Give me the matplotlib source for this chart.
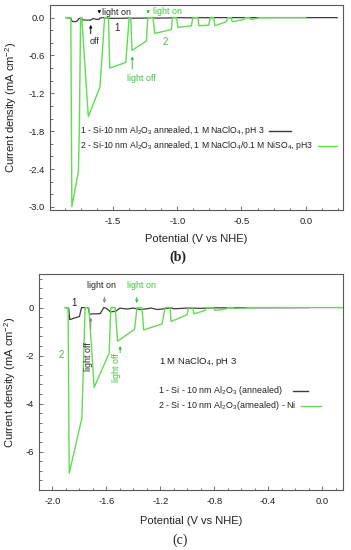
import matplotlib
matplotlib.use('Agg')
import matplotlib.pyplot as plt
from matplotlib.ticker import MultipleLocator, AutoMinorLocator
from matplotlib.lines import Line2D

plt.rcParams['font.family'] = ['Liberation Sans', 'DejaVu Sans']
plt.rcParams['mathtext.fontset'] = 'custom'
plt.rcParams['mathtext.rm'] = 'Liberation Sans'
plt.rcParams['mathtext.it'] = 'Liberation Sans:italic'
plt.rcParams['axes.unicode_minus'] = False

GREEN = '#62dc52'
GREEN_TXT = '#3cc43a'
DARK = '#3c3c3c'
SPINE = '#5a5a5a'

# ---- panel (b): chopped LSV, 1 M NaClO4 vs NaClO4/NiSO4 ----
b_green_v = [-1.865, -1.828, -1.820, -1.769, -1.762, -1.752, -1.743, -1.692, -1.601, -1.565,
             -1.535, -1.525, -1.400, -1.374, -1.362, -1.352, -1.240, -1.229, -1.188, -1.175,
             -1.045, -1.037, -1.006, -0.994, -0.890, -0.878, -0.839, -0.831, -0.755, -0.743,
             -0.717, -0.707, -0.619, -0.606, -0.580, -0.572, -0.480, -0.470, -0.438, -0.425,
             -0.365, -0.360, 0.0]
b_green_j = [0.0, 0.0, -3.0, -2.44, -1.8, 0.0, 0.0, -1.57, -1.10, 0.0,
             0.0, -0.80, -0.71, 0.0, 0.0, -0.52, -0.37, 0.0, 0.0, -0.25,
             -0.19, 0.0, 0.0, -0.155, -0.13, 0.0, 0.0, -0.13, -0.12, 0.0,
             0.0, -0.13, -0.065, 0.0, 0.0, -0.065, -0.03, 0.0, 0.0, -0.03,
             -0.005, 0.0, 0.0]
b_black_v = [-1.865, -1.828, -1.818, -1.790, -1.775, -1.765, -1.745, -1.735, -1.700, -1.675,
             -1.655, -1.630, -1.610, -1.600, -1.570, -1.530, -1.400, -1.370, -1.360, -1.230,
             -1.190, -1.170, -1.040, -1.000, -0.880, -0.840, -0.740, -0.700, 0.245]
b_black_j = [0.0, -0.01, -0.06, -0.065, -0.045, -0.015, -0.01, -0.035, -0.04, -0.04,
             -0.015, -0.025, -0.03, -0.005, 0.0, -0.012, -0.01, 0.0, -0.01, -0.006,
             0.0, -0.008, -0.004, 0.0, -0.004, 0.0, -0.003, 0.0, 0.0]

# ---- panel (c): 1 M NaClO4, pH 3, with / without Ni ----
c_green_v = [-1.906, -1.884, -1.876, -1.782, -1.758, -1.730, -1.691, -1.580, -1.567,
             -1.535, -1.517, -1.391, -1.373, -1.336, -1.324, -1.187, -1.165,
             -1.128, -1.121, -1.002, -0.991, -0.960, -0.950, -0.869, -0.854,
             -0.807, -0.795, -0.708, -0.699, -0.659, -0.650, -0.565, -0.558, 0.153]
c_green_j = [0.0, 0.0, -6.9, -4.61, 0.0, 0.0, -3.33, -1.9, 0.0,
             0.0, -1.4, -0.9, 0.0, 0.0, -0.93, -0.68, 0.0,
             0.0, -0.58, -0.30, 0.0, 0.0, -0.26, -0.12, 0.0,
             0.0, -0.12, -0.05, 0.0, 0.0, -0.04, -0.02, 0.0, 0.0]
c_black_v = [-1.905, -1.880, -1.872, -1.800, -1.785, -1.735, -1.725, -1.645, -1.620, -1.600,
             -1.570, -1.530, -1.500, -1.450, -1.400, -1.350, -1.300, -1.270, -1.220, -1.170,
             -1.120, -1.100, -1.000, -0.900, -0.800, -0.100]
c_black_j = [0.0, -0.02, -0.5, -0.37, 0.0, 0.0, -0.27, -0.25, 0.0, -0.03,
             -0.18, -0.15, -0.02, -0.06, -0.02, -0.08, -0.05, -0.02, -0.08, -0.05,
             -0.01, -0.05, -0.02, -0.03, -0.01, 0.0]

TICK_FS = 6.8
LAB_FS = 8.0
ANN_FS = 6.4

fig = plt.figure(figsize=(3.51, 5.5), dpi=100)
ax1 = fig.add_axes([50 / 351, 1 - 210 / 550, 293 / 351, 205 / 550])
ax2 = fig.add_axes([39 / 351, 1 - 490 / 550, 304 / 351, 216 / 550])


def style_axes(ax):
    for s in ax.spines.values():
        s.set_color(SPINE)
        s.set_linewidth(0.8)
    ax.tick_params(which='both', direction='in', top=False, right=False,
                   colors=SPINE, labelcolor='#222222', labelsize=TICK_FS, width=0.6)
    ax.tick_params(which='major', length=3)
    ax.tick_params(which='minor', length=1.8)
    ax.tick_params(axis='x', pad=5)
    ax.tick_params(axis='y', pad=3.5)


def fmt(decimals):
    return plt.FuncFormatter(lambda v, p: f'{round(v, decimals) + 0.0:.{decimals}f}')


def add_legend_row(ax, x, y, label, color, gap=5, length=20, fs=ANN_FS):
    t = ax.text(x, y, label, fontsize=fs, color='#222222', ha='left', va='center')
    fig.canvas.draw()
    bb = t.get_window_extent(fig.canvas.get_renderer())
    inv = fig.transFigure.inverted()
    (x0, yc) = inv.transform((bb.x1 + gap, (bb.y0 + bb.y1) / 2))
    (x1, _) = inv.transform((bb.x1 + gap + length, 0))
    fig.add_artist(Line2D([x0, x1], [yc, yc], color=color, lw=1.0, transform=fig.transFigure))


# panel (b)
ax1.plot(b_black_v, b_black_j, color=DARK, lw=0.9)
ax1.plot(b_green_v, b_green_j, color=GREEN, lw=1.0)
ax1.set_xlim(-1.99, 0.29)
ax1.set_ylim(-3.05, 0.2)
ax1.xaxis.set_major_locator(MultipleLocator(0.5))
ax1.xaxis.set_minor_locator(AutoMinorLocator(4))
ax1.yaxis.set_major_locator(MultipleLocator(0.6))
ax1.yaxis.set_minor_locator(AutoMinorLocator(3))
ax1.xaxis.set_major_formatter(fmt(1))
ax1.yaxis.set_major_formatter(fmt(1))
style_axes(ax1)
ax1.set_xlabel('Potential (V vs NHE)', fontsize=LAB_FS, color='#222222')
ax1.set_ylabel('Current density (mA cm$^{-2}$)', fontsize=LAB_FS, color='#222222')
ax1.xaxis.set_label_coords(0.5, -0.118)
ax1.yaxis.set_label_coords(-0.105, 0.5)

ax1.annotate('', xy=(-1.606, 0.016), xytext=(-1.606, 0.15),
             arrowprops=dict(arrowstyle='-|>', color='#111111', lw=0.7, mutation_scale=4))
ax1.text(-1.588, 0.085, 'light on', fontsize=ANN_FS, color='#222222', ha='left', va='center')
ax1.annotate('', xy=(-1.673, -0.07), xytext=(-1.673, -0.30),
             arrowprops=dict(arrowstyle='-|>', color='#111111', lw=0.7, mutation_scale=4))
ax1.text(-1.645, -0.38, 'off', fontsize=ANN_FS, color='#222222', ha='center', va='center')
ax1.text(-1.467, -0.168, '1', fontsize=7, color='#222222', ha='center', va='center')
ax1.annotate('', xy=(-1.226, 0.016), xytext=(-1.226, 0.15),
             arrowprops=dict(arrowstyle='-|>', color=GREEN_TXT, lw=0.7, mutation_scale=4))
ax1.text(-1.19, 0.09, 'light on', fontsize=ANN_FS, color=GREEN_TXT, ha='left', va='center')
ax1.text(-1.097, -0.38, '2', fontsize=7, color=GREEN_TXT, ha='center', va='center')
ax1.annotate('', xy=(-1.35, -0.57), xytext=(-1.35, -0.86),
             arrowprops=dict(arrowstyle='-|>', color=GREEN_TXT, lw=0.7, mutation_scale=4))
ax1.text(-1.275, -0.97, 'light off', fontsize=ANN_FS, color=GREEN_TXT, ha='center', va='center')

add_legend_row(ax1, -1.756, -1.79,
               '1 - Si-10 nm Al$_2$O$_3$ annealed, 1 M NaClO$_4$, pH 3', DARK,
               gap=4, length=22, fs=6.2)
add_legend_row(ax1, -1.756, -2.03,
               '2 - Si-10 nm Al$_2$O$_3$ annealed, 1 M NaClO$_4$/0.1 M NiSO$_4$, pH3', GREEN,
               gap=5, length=19, fs=6.2)

# panel (c)
ax2.plot(c_black_v, c_black_j, color=DARK, lw=0.9)
ax2.plot(c_green_v, c_green_j, color=GREEN, lw=1.0)
ax2.set_xlim(-2.1, 0.155)
ax2.set_ylim(-7.6, 1.4)
ax2.xaxis.set_major_locator(MultipleLocator(0.4))
ax2.xaxis.set_minor_locator(AutoMinorLocator(4))
ax2.yaxis.set_major_locator(MultipleLocator(2))
ax2.yaxis.set_minor_locator(AutoMinorLocator(5))
ax2.xaxis.set_major_formatter(fmt(1))
ax2.yaxis.set_major_formatter(fmt(0))
style_axes(ax2)
ax2.set_xlabel('Potential (V vs NHE)', fontsize=LAB_FS, color='#222222')
ax2.set_ylabel('Current density (mA cm$^{-2}$)', fontsize=LAB_FS, color='#222222')
ax2.xaxis.set_label_coords(0.5, -0.122)
ax2.yaxis.set_label_coords(-0.068, 0.5)

ax2.text(-1.839, 0.2, '1', fontsize=7, color='#222222', ha='center', va='center')
ax2.annotate('', xy=(-1.615, 0.07), xytext=(-1.615, 0.55),
             arrowprops=dict(arrowstyle='-|>', color='#888888', lw=0.7, mutation_scale=4))
ax2.text(-1.639, 0.9, 'light on', fontsize=ANN_FS, color='#222222', ha='center', va='center')
ax2.annotate('', xy=(-1.375, 0.07), xytext=(-1.375, 0.55),
             arrowprops=dict(arrowstyle='-|>', color=GREEN_TXT, lw=0.7, mutation_scale=4))
ax2.text(-1.339, 0.9, 'light on', fontsize=ANN_FS, color=GREEN_TXT, ha='center', va='center')
ax2.annotate('', xy=(-1.716, -0.3), xytext=(-1.716, -1.0),
             arrowprops=dict(arrowstyle='-|>', color='#888888', lw=0.7, mutation_scale=4))
ax2.text(-1.732, -2.05, 'light off', fontsize=ANN_FS, color='#222222', ha='center', va='center',
         rotation=90)
ax2.annotate('', xy=(-1.498, -1.48), xytext=(-1.498, -2.0),
             arrowprops=dict(arrowstyle='-|>', color=GREEN_TXT, lw=0.7, mutation_scale=4))
ax2.text(-1.524, -2.5, 'light off', fontsize=ANN_FS, color=GREEN_TXT, ha='center', va='center',
         rotation=90)
ax2.text(-1.936, -1.97, '2', fontsize=7, color=GREEN_TXT, ha='center', va='center')
ax2.text(-1.21, -2.25, '1 M NaClO$_4$, pH 3', fontsize=6.8, color='#222222',
         ha='left', va='center')

add_legend_row(ax2, -1.217, -3.46, '1 - Si - 10 nm Al$_2$O$_3$ (annealed)', DARK, gap=10, length=15)
add_legend_row(ax2, -1.217, -4.10, '2 - Si - 10 nm Al$_2$O$_3$(annealed) - Ni', GREEN, gap=5, length=20)

fig.text(178 / 351, 1 - 257 / 550, '(b)', fontsize=10, family='Liberation Serif',
         fontweight='bold', ha='center', va='center', color='#222222')
fig.text(180 / 351, 1 - 540 / 550, '(c)', fontsize=10, family='Liberation Serif',
         ha='center', va='center', color='#222222')

fig.savefig('out.png', dpi=100)
